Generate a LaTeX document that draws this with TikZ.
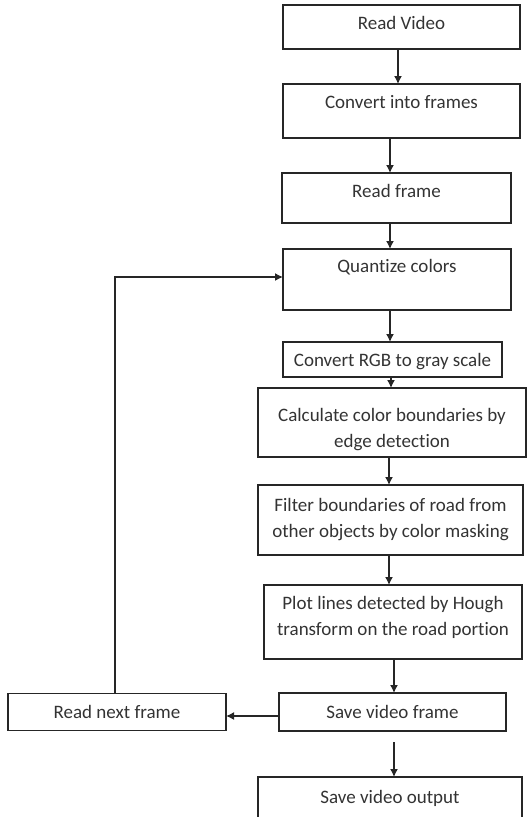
\documentclass[tikz,border=0pt]{standalone}
\usepackage{fontspec}
\setmainfont[Ligatures=CommonOff]{Carlito}
\usetikzlibrary{arrows.meta,positioning}

\begin{document}
\begin{tikzpicture}[
        x=1pt, y=-1pt,
        node distance=30pt,
        font=\fontsize{19}{26}\selectfont,
        stepbox/.style={rectangle, draw=black!85, line width=1.4pt, text=black!80, align=center, inner sep=3pt, outer sep=0pt},
        arr/.style={draw=black!85, line width=1.4pt, -{Latex[length=8pt,width=8pt]}}
    ]
        \useasboundingbox (0,0) rectangle (528,817);

        % Video input
        \node [stepbox, minimum width=237pt, minimum height=44pt, text depth=9pt] (video) at (401.5,27) {Read Video};
        \node [stepbox, minimum width=237pt, minimum height=54pt, text depth=18pt, below=35pt of video] (frames) {Convert into frames};
        \node [stepbox, minimum width=229pt, minimum height=50pt, text depth=14pt, below=35pt of frames, xshift=-5pt] (read) {Read frame};

        % Frame processing
        \node [stepbox, minimum width=228pt, minimum height=61pt, text depth=27pt, below=26pt of read, xshift=0.5pt] (quant) {Quantize colors};
        \node [stepbox, minimum width=219pt, minimum height=35pt, text depth=0pt, below=32pt of quant, xshift=-4.5pt] (gray) {Convert RGB to gray scale};
        \node [stepbox, minimum width=268pt, minimum height=69pt, below=11pt of gray, xshift=-0.5pt] (edges) {\rule{0pt}{28pt}Calculate color boundaries by\\edge detection};
        \node [stepbox, minimum width=265pt, minimum height=70pt, below=28pt of edges, xshift=-1.5pt] (mask) {Filter boundaries of road from\\other objects by color masking};
        \node [stepbox, minimum width=258pt, minimum height=74pt, text depth=13pt, below=30pt of mask, xshift=2.5pt] (hough) {Plot lines detected by Hough\\transform on the road portion};

        % Output and loop
        \node [stepbox, minimum width=227pt, minimum height=38pt, text depth=0pt, below=34pt of hough, xshift=-0.5pt] (save) {Save video frame};
        \node [stepbox, minimum width=218pt, minimum height=37pt, text depth=0pt, left=53pt of save] (next) {Read next frame};
        \node [stepbox, minimum width=264pt, minimum height=50pt, text depth=11pt, below=46pt of save, xshift=-2.5pt] (output) {Save video output};

        % Arrows
        \draw [arr] ([xshift=-3.5pt]video.south) -- ([xshift=-3.5pt]video.south |- frames.north);
        \draw [arr] ([xshift=-11.5pt]frames.south) -- ([xshift=-11.5pt]frames.south |- read.north);
        \draw [arr] ([xshift=-6.5pt]read.south) -- ([xshift=-6.5pt]read.south |- quant.north);
        \draw [arr] ([xshift=-7pt]quant.south) -- ([xshift=-7pt]quant.south |- gray.north);
        \draw [arr] ([xshift=-1.5pt]gray.south) -- ([xshift=-1.5pt]gray.south |- edges.north);
        \draw [arr] ([xshift=-3pt]edges.south) -- ([xshift=-3pt]edges.south |- mask.north);
        \draw [arr] ([xshift=-1.5pt]mask.south) -- ([xshift=-1.5pt]mask.south |- hough.north);
        \draw [arr] ([xshift=1pt]hough.south) -- ([xshift=1pt]hough.south |- save.north);
        \draw [arr] ([xshift=1.5pt,yshift=-11pt]save.south) -- ([xshift=1.5pt]save.south |- output.north);

        % Loop back
        \draw [arr] ([yshift=-4pt]save.west) -- ([yshift=-4pt]save.west -| next.east);
        \draw [arr] ([xshift=-2pt]next.north) |- ([yshift=2.5pt]quant.west);

    \end{tikzpicture}
\end{document}
